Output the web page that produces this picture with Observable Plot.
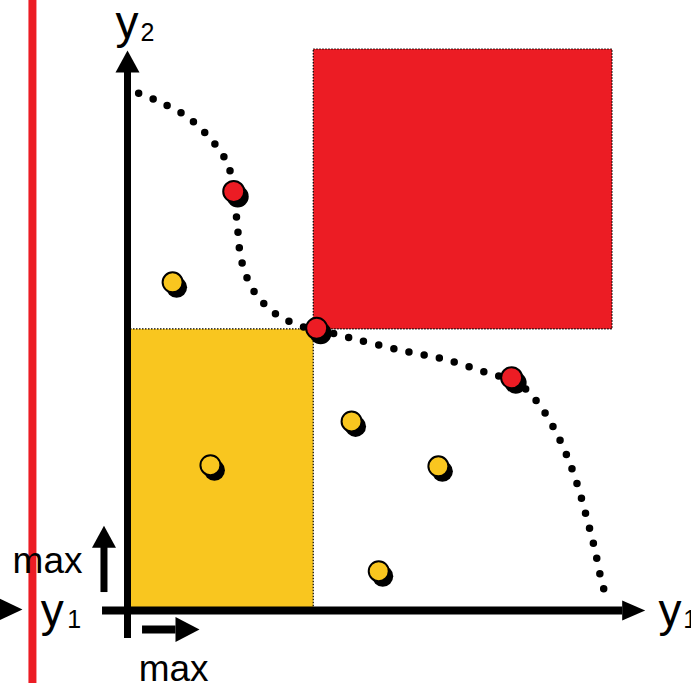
<!DOCTYPE html>
<html><head><meta charset="utf-8">
<script src="https://cdn.jsdelivr.net/npm/d3@7"></script>
<script src="https://cdn.jsdelivr.net/npm/@observablehq/plot@0.6"></script>
<style>html,body{margin:0;padding:0;background:#fff;} svg{display:block}</style>
</head><body><div id="chart"></div>
<script>
// ---- data (objective space, y1 horizontal, y2 vertical) ----
const frontier = [[0.23,9.22],[0.60,9.09],[1.20,8.82],[1.69,8.43],[2.06,7.97],[2.19,7.47],[2.27,6.81],[2.35,6.24],[2.60,5.70],[3.05,5.29],[3.61,5.06],[3.90,5.01],[4.64,4.85],[5.63,4.64],[6.62,4.46],[7.59,4.19],[7.92,4.14],[8.39,3.78],[8.76,3.30],[9.05,2.78],[9.28,2.23],[9.46,1.68],[9.63,1.11],[9.77,0.54],[9.86,0.27]];
const paretoX = [2.19, 3.90, 7.92];
const paretoY = [7.47, 5.03, 4.15];
const dominatedX = [0.93, 1.71, 4.62, 6.41, 5.18];
const dominatedY = [5.85, 2.59, 3.37, 2.57, 0.70];
const dominatedBox = [{x1: 0, x2: 3.84, y1: 0, y2: 5.01}];
const dominatingBox = [{x1: 3.84, x2: 10, y1: 5.01, y2: 10}];
const dividerX = [-1.96];
const labelsBig = [{t: "y", x: -0.25, y: 10.21}, {t: "y", x: -1.79, y: -0.285}, {t: "y", x: 10.95, y: -0.285}];
const labelsSub = [{t: "2", x: 0.27, y: 10.16}, {t: "1", x: -1.24, y: -0.32}, {t: "1", x: 11.46, y: -0.32}];
const labelsMax = [{t: "max", x: -2.37, y: 0.66}, {t: "max", x: 0.23, y: -1.25}];

// ---- layout ----
const W = 691, H = 683;
const px0 = 127, ux = 48.5, py0 = 610, uy = 56.1;
const RED = "#ec1c24", YELLOW = "#f9c61f";

function head(w, h) {
  return {draw(ctx) { ctx.moveTo(0, -h); ctx.lineTo(w / 2, 0); ctx.lineTo(-w / 2, 0); ctx.closePath(); }};
}
const idxP = d3.range(paretoX.length), idxD = d3.range(dominatedX.length);

const chart = Plot.plot({
  width: W, height: H,
  margin: 0,
  x: {domain: [(0 - px0) / ux, (W - px0) / ux], axis: null},
  y: {domain: [(py0 - H) / uy, py0 / uy], axis: null},
  style: {background: "white", fontFamily: "'Liberation Sans', Arial, sans-serif", overflow: "hidden"},
  marks: [
    Plot.ruleX(dividerX, {stroke: RED, strokeWidth: 8}),
    Plot.rect(dominatedBox, {x1: "x1", x2: "x2", y1: "y1", y2: "y2", fill: YELLOW, stroke: "black", strokeWidth: 1.2, strokeDasharray: "1.5,1.5"}),
    Plot.rect(dominatingBox, {x1: "x1", x2: "x2", y1: "y1", y2: "y2", fill: RED, stroke: "black", strokeWidth: 1.2, strokeDasharray: "1.5,1.5"}),
    // axes
    Plot.ruleX([0], {y1: -0.5, y2: 9.6, stroke: "black", strokeWidth: 7}),
    Plot.ruleY([0], {x1: -0.515, x2: 10.21, stroke: "black", strokeWidth: 8}),
    Plot.dot([0], {x: 0, y: 9.59, symbol: head(24, 22), fill: "black"}),
    Plot.dot([0], {x: 10.2, y: 0, symbol: head(20, 23), rotate: 90, fill: "black"}),
    // "max" direction arrows
    Plot.ruleX([-0.485], {y1: 0.32, y2: 1.15, stroke: "black", strokeWidth: 7}),
    Plot.dot([0], {x: -0.485, y: 1.12, symbol: head(24, 22), fill: "black"}),
    Plot.ruleY([-0.34], {x1: 0.31, x2: 1.0, stroke: "black", strokeWidth: 8}),
    Plot.dot([0], {x: 0.99, y: -0.34, symbol: head(25, 24), rotate: 90, fill: "black"}),
    // arrow of neighbouring panel at the left edge
    Plot.dot([0], {x: -2.64, y: 0.02, symbol: head(22, 23), rotate: 90, fill: "black"}),
    // pareto front (dotted)
    Plot.line(frontier, {x: d => d[0], y: d => d[1], curve: "catmull-rom", stroke: "black", strokeWidth: 7.5, strokeLinecap: "round", strokeDasharray: "0,15.5"}),
    // points with shadows
    Plot.dot(idxD, {x: i => dominatedX[i], y: i => dominatedY[i], r: 10.5, fill: "black", dx: 4, dy: 5}),
    Plot.dot(idxD, {x: i => dominatedX[i], y: i => dominatedY[i], r: 10, fill: YELLOW, stroke: "black", strokeWidth: 2}),
    Plot.dot(idxP, {x: i => paretoX[i], y: i => paretoY[i], r: 11, fill: "black", dx: 4, dy: 5}),
    Plot.dot(idxP, {x: i => paretoX[i], y: i => paretoY[i], r: 10.5, fill: RED, stroke: "black", strokeWidth: 2}),
    // labels
    Plot.text(labelsBig, {x: "x", y: "y", text: "t", fontSize: 46, textAnchor: "start", lineAnchor: "bottom", fill: "black"}),
    Plot.text(labelsSub, {x: "x", y: "y", text: "t", fontSize: 25, textAnchor: "start", lineAnchor: "bottom", fill: "black"}),
    Plot.text(labelsMax, {x: "x", y: "y", text: "t", fontSize: 37, textAnchor: "start", lineAnchor: "bottom", fill: "black"})
  ]
});
document.getElementById("chart").append(chart);
</script>
</body></html>
